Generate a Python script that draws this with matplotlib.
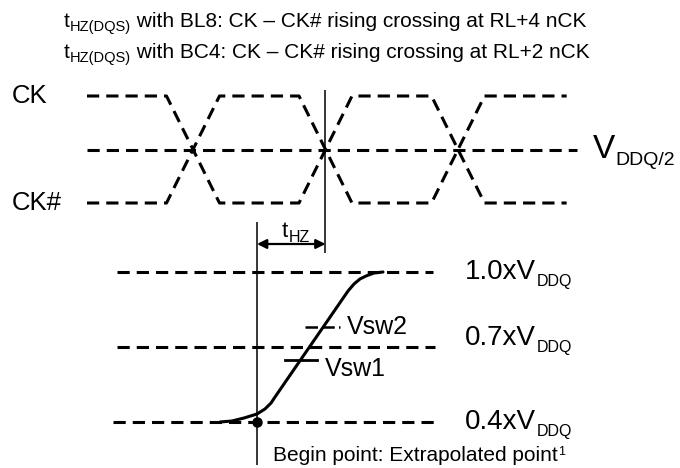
import matplotlib
matplotlib.use("Agg")
import matplotlib.pyplot as plt

plt.rcParams["font.family"] = ["Liberation Sans", "DejaVu Sans"]

# time axis in clock half-periods, 0 = first CK/CK# crossing
CLK_T = [-0.8, -0.2, 0.2, 0.8, 1.2, 1.8, 2.2, 2.82]
CK_LEVEL = [1, 1, 0, 0, 1, 1, 0, 0]
CKB_LEVEL = [0, 0, 1, 1, 0, 0, 1, 1]
VREF_T = [-0.8, 2.9]
VREF_LEVEL = 0.5

# DQS output levels (x VDDQ) and their dashed reference lines
LEVELS = [1.0, 0.7, 0.4]
LEVEL_NAMES = ["1.0xV", "0.7xV", "0.4xV"]
LEVEL_START = [-0.57, -0.57, -0.60]
LEVEL_END = [1.81, 1.83, 1.84]

# DQS rising edge
DQS_T = [0.204, 0.294, 0.385, 0.483, 0.543, 0.589, 0.619,
         1.170, 1.215, 1.260, 1.306, 1.366, 1.434]
DQS_V = [0.400, 0.404, 0.416, 0.432, 0.452, 0.476, 0.500,
         0.924, 0.952, 0.972, 0.984, 0.996, 1.000]

T_CROSS = 1.0      # CK - CK# rising crossing
T_BEGIN = 0.483    # extrapolated begin point
VSW = [0.65, 0.78]
VSW_NAMES = ["Vsw1", "Vsw2"]
VSW_T0 = [0.694, 0.845]
VSW_T1 = [0.936, 1.109]

DASH = (0, (4, 2.3))
LW = 2.2


def sub_text(ax, x, y, main, sub, size, sub_size, rest="", drop=2.0, **kw):
    t1 = ax.text(x, y, main, fontsize=size, ha="left", **kw)
    t2 = ax.annotate(sub, xy=(1, 0), xycoords=t1, xytext=(0.3, -drop),
                     textcoords="offset points", fontsize=sub_size,
                     ha="left", va="bottom")
    if rest:
        ax.annotate(rest, xy=(1, 0), xycoords=(t2, t1), fontsize=size,
                    ha="left", va="bottom")
    return t1


fig = plt.figure(figsize=(6.8, 4.68), dpi=100)
ax_clk = fig.add_axes([0, 0, 1, 1])
ax_dq = fig.add_axes([0, 0, 1, 1])
for ax in (ax_clk, ax_dq):
    ax.set_xlim(-1.4566, 3.6755)
    ax.axis("off")
    ax.patch.set_alpha(0)
ax_clk.set_ylim(-2.4766, 1.8972)
ax_dq.set_ylim(0.216, 2.088)

# clock pair
ax_clk.plot(CLK_T, CK_LEVEL, color="black", lw=LW, ls=DASH)
ax_clk.plot(CLK_T, CKB_LEVEL, color="black", lw=LW, ls=DASH)
ax_clk.plot(VREF_T, [VREF_LEVEL, VREF_LEVEL], color="black", lw=LW, ls=DASH)
ax_clk.vlines(T_CROSS, -0.467, 1.056, color="black", lw=1.1)

ax_clk.text(-1.366, 1, "CK", fontsize=18.5, va="center", ha="left")
ax_clk.text(-1.366, 0, "CK#", fontsize=18.5, va="center", ha="left")
sub_text(ax_clk, 3.019, VREF_LEVEL, "V", "DDQ/2", 24, 14, va="center", drop=3)

# header
sub_text(ax_clk, 0.094, 0.942, "t", "HZ(DQS)", 15, 10.5,
         rest=" with BL8: CK \u2013 CK# rising crossing at RL+4 nCK",
         va="baseline", transform=fig.transFigure)
sub_text(ax_clk, 0.094, 0.876, "t", "HZ(DQS)", 15, 10.5,
         rest=" with BC4: CK \u2013 CK# rising crossing at RL+2 nCK",
         va="baseline", transform=fig.transFigure)

# DQS levels
for v, name, t0, t1 in zip(LEVELS, LEVEL_NAMES, LEVEL_START, LEVEL_END):
    ax_dq.plot([t0, t1], [v, v], color="black", lw=LW, ls=DASH)
    ty = v + 0.035 if v == 0.7 else v
    sub_text(ax_dq, 2.053, ty, name, "DDQ", 20, 11.5, va="center", drop=3)

ax_dq.plot(DQS_T, DQS_V, color="black", lw=LW, solid_capstyle="round")
ax_dq.plot([T_BEGIN], [LEVELS[2]], "o", color="black", ms=6.5)
ax_dq.vlines(T_BEGIN, 0.228, 1.2, color="black", lw=1.1)

# Vsw markers
ax_dq.plot([VSW_T0[0], VSW_T1[0]], [VSW[0], VSW[0]], color="black", lw=2.0)
ax_dq.plot([VSW_T0[1], VSW_T1[1]], [VSW[1], VSW[1]], color="black", lw=1.8,
           ls=(0, (5, 1.7)))
ax_dq.text(0.996, VSW[0] - 0.04, VSW_NAMES[0], fontsize=18, va="center", ha="left")
ax_dq.text(1.162, VSW[1], VSW_NAMES[1], fontsize=18, va="center", ha="left")

# tHZ arrow
ax_dq.annotate("", xy=(T_BEGIN, 1.112), xytext=(T_CROSS, 1.112),
               arrowprops=dict(arrowstyle="<|-|>", color="black", lw=1.6,
                               mutation_scale=14, shrinkA=0, shrinkB=0))
sub_text(ax_dq, 0.672, 1.14, "t", "HZ", 16, 11.5, va="baseline", drop=2)

bt = ax_dq.text(0.604, 0.244, "Begin point: Extrapolated point", fontsize=15,
                va="baseline", ha="left")
ax_dq.annotate("1", xy=(1, 1), xycoords=bt, xytext=(0.5, 0),
               textcoords="offset points", fontsize=9, ha="left", va="top")

fig.savefig("out.png", dpi=100)
